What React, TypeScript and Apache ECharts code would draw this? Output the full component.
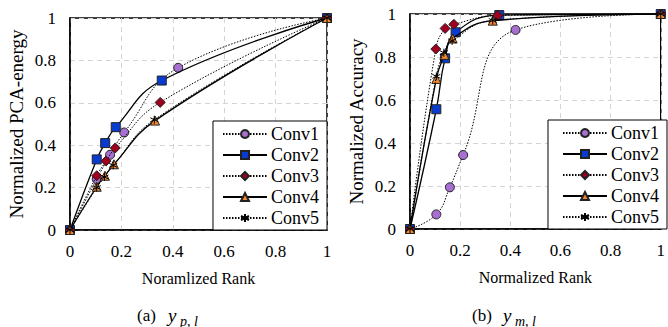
import React, { useEffect, useRef } from "react";
import * as echarts from "echarts";

const seriesNames = ["Conv1", "Conv2", "Conv3", "Conv4", "Conv5"];

// (a) PCA-energy chart
const pcaX1 = [0, 0.104, 0.156, 0.211, 0.421, 1];
const pcaY1 = [0, 0.24, 0.355, 0.46, 0.765, 1];
const pcaX2 = [0, 0.104, 0.137, 0.178, 0.357, 1];
const pcaY2 = [0, 0.333, 0.41, 0.485, 0.705, 1];
const pcaX3 = [0, 0.104, 0.14, 0.176, 0.351, 1];
const pcaY3 = [0, 0.256, 0.325, 0.387, 0.602, 1];
const pcaX4 = [0, 0.104, 0.136, 0.171, 0.331, 1];
const pcaY4 = [0, 0.204, 0.256, 0.31, 0.516, 1];
const pcaX5 = [0, 0.104, 0.134, 0.168, 0.328, 1];
const pcaY5 = [0, 0.2, 0.25, 0.305, 0.52, 1];

// (b) Accuracy chart
const accX1 = [0, 0.105, 0.159, 0.212, 0.421, 1];
const accY1 = [0, 0.068, 0.194, 0.344, 0.926, 1];
const accX2 = [0, 0.105, 0.14, 0.182, 0.356, 1];
const accY2 = [0, 0.557, 0.794, 0.915, 0.995, 1];
const accX3 = [0, 0.103, 0.14, 0.175, 0.35, 1];
const accY3 = [0, 0.837, 0.933, 0.952, 0.993, 1];
const accX4 = [0, 0.105, 0.137, 0.17, 0.33, 1];
const accY4 = [0, 0.698, 0.81, 0.886, 0.969, 1];
const accX5 = [0, 0.105, 0.135, 0.168, 0.33, 1];
const accY5 = [0, 0.71, 0.82, 0.875, 0.97, 1];

const tickValues = [0, 0.2, 0.4, 0.6, 0.8, 1];

const FONT = "Liberation Serif";

const STAR = "path://M5,0L5,10M0.67,2.5L9.33,7.5M0.67,7.5L9.33,2.5";

const styles = [
  { symbol: "circle", color: "#a66fd0", line: "dotted", width: 1, size: 9 },
  { symbol: "rect", color: "#0a3bd0", line: "solid", width: 1.3, size: 9 },
  { symbol: "diamond", color: "#a0001e", line: "dotted", width: 1, size: 10 },
  { symbol: "triangle", color: "#f5882f", line: "solid", width: 1.3, size: 9 },
  { symbol: STAR, color: "#000", line: "dotted", width: 1, size: 8 },
];

function pairs(xs: number[], ys: number[]) {
  return xs.map((x, i) => [x, ys[i]]);
}

export default function App() {
  const ref = useRef<HTMLDivElement>(null);
  useEffect(() => {
    if (!ref.current) return;
    const chart = echarts.init(ref.current, undefined, { renderer: "svg" });
    const pcaData = [
      pairs(pcaX1, pcaY1),
      pairs(pcaX2, pcaY2),
      pairs(pcaX3, pcaY3),
      pairs(pcaX4, pcaY4),
      pairs(pcaX5, pcaY5),
    ];
    const accData = [
      pairs(accX1, accY1),
      pairs(accX2, accY2),
      pairs(accX3, accY3),
      pairs(accX4, accY4),
      pairs(accX5, accY5),
    ];
    const mkSeries = (data: number[][][], idx: number) =>
      data.map((d, i) => ({
        name: seriesNames[i],
        type: "line",
        xAxisIndex: idx,
        yAxisIndex: idx,
        data: d,
        smooth: 0.45,
        symbol: styles[i].symbol,
        symbolSize: styles[i].size,
        showSymbol: true,
        z: 2 + i,
        lineStyle: {
          color: "#000",
          width: styles[i].width,
          type: styles[i].line === "dotted" ? [1.5, 1.5] : "solid",
        },
        itemStyle: {
          color: styles[i].color,
          borderColor: i === 4 ? "#000" : "#222",
          borderWidth: 1,
        },
      }));

    const axisCommonX = (gridIndex: number, name: string) => ({
      type: "value",
      gridIndex,
      min: 0,
      max: 1,
      interval: 0.2,
      name,
      nameLocation: "middle",
      nameGap: 40,
      nameTextStyle: { fontFamily: FONT, fontSize: 16, color: "#000" },
      axisLine: { show: true, lineStyle: { color: "#000", width: 1.5 } },
      axisTick: { show: false },
      axisLabel: {
        fontFamily: FONT,
        fontSize: 17,
        color: "#000",
        margin: 13,
        formatter: (v: number) => (tickValues.includes(Math.round(v * 10) / 10) ? String(Math.round(v * 10) / 10) : ""),
      },
      splitLine: { show: true, lineStyle: { color: "#d4d4d4", type: [5, 4], width: 1 } },
    });
    const axisCommonY = (gridIndex: number, name: string) => ({
      type: "value",
      gridIndex,
      min: 0,
      max: 1,
      interval: 0.2,
      name,
      nameLocation: "middle",
      nameGap: 44,
      nameTextStyle: { fontFamily: FONT, fontSize: 19, color: "#000" },
      axisLine: { show: true, lineStyle: { color: "#000", width: 1.5 } },
      axisTick: { show: false },
      axisLabel: {
        fontFamily: FONT,
        fontSize: 17,
        color: "#000",
        margin: 14,
        formatter: (v: number) => String(Math.round(v * 10) / 10),
      },
      splitLine: { show: true, lineStyle: { color: "#d4d4d4", type: [5, 4], width: 1 } },
    });

    const legendCommon = {
      orient: "vertical",
      itemWidth: 44,
      itemHeight: 10,
      itemGap: 3,
      backgroundColor: "#fff",
      borderColor: "#000",
      borderWidth: 1,
      borderRadius: 0,
      textStyle: { fontFamily: FONT, fontSize: 18, color: "#000", padding: [0, 0, 0, -1] },
      data: seriesNames,
      selectedMode: false,
    };

    const capStyle = { fontFamily: FONT, fontSize: 17, fill: "#000" };
    const mathStyle = { fontFamily: FONT, fontSize: 19, fontStyle: "italic", fill: "#000" };
    const subStyle = { fontFamily: FONT, fontSize: 14, fontStyle: "italic", fill: "#000" };

    chart.setOption({
      animation: false,
      backgroundColor: "#fff",
      textStyle: { fontFamily: FONT },
      grid: [
        { left: 70, top: 18, width: 257, height: 212, show: true, borderColor: "#000", borderWidth: 1.5, backgroundColor: "transparent" },
        { left: 410, top: 14, width: 255, height: 215, show: true, borderColor: "#000", borderWidth: 1.5, backgroundColor: "transparent" },
      ],
      xAxis: [axisCommonX(0, "Noramlized Rank"), axisCommonX(1, "Normalized Rank")],
      yAxis: [axisCommonY(0, "Normalized PCA-energy"), axisCommonY(1, "Normalized Accuracy")],
      legend: [
        { ...legendCommon, right: 341, bottom: 97, padding: [4, 8, 3, 9] },
        { ...legendCommon, right: 1, bottom: 98, padding: [4, 8, 3, 14] },
      ],
      graphic: [
        { type: "text", left: 137, top: 307, style: { ...capStyle, text: "(a)" } },
        { type: "text", left: 168, top: 306, style: { ...mathStyle, text: "y" } },
        { type: "text", left: 180, top: 314, style: { ...subStyle, text: "p, l" } },
        { type: "text", left: 472, top: 307, style: { ...capStyle, text: "(b)" } },
        { type: "text", left: 503, top: 306, style: { ...mathStyle, text: "y" } },
        { type: "text", left: 515, top: 314, style: { ...subStyle, text: "m, l" } },
      ],
      series: [...mkSeries(pcaData, 0), ...mkSeries(accData, 1)],
    });
    return () => chart.dispose();
  }, []);
  return (
    <div
      ref={ref}
      style={{ position: "fixed", left: 0, top: 0, width: 668, height: 327 }}
    />
  );
}
